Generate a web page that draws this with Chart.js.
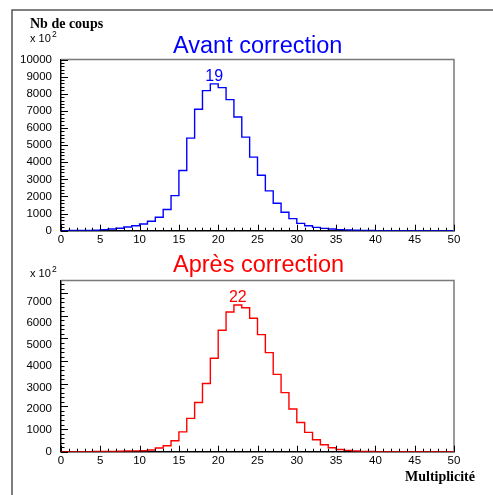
<!DOCTYPE html>
<html>
<head>
<meta charset="utf-8">
<script src="https://cdn.jsdelivr.net/npm/chart.js@4.4.1/dist/chart.umd.min.js"></script>
<style>
html,body{margin:0;padding:0;background:#fff;}
#wrap{position:relative;width:493px;height:495px;overflow:hidden;}
canvas{position:absolute;left:0;}
#c1{top:0;}
#c2{top:250px;}
</style>
</head>
<body>
<div id="wrap">
<canvas id="c1" width="493" height="250"></canvas>
<canvas id="c2" width="493" height="245"></canvas>
</div>
<script>
// ---- data (bins of width 1, from 0 to 50) ----
const binStarts = Array.from({length: 50}, (_, i) => i);
const avantValues = [5, 8, 12, 18, 30, 60, 100, 140, 220, 285,
  390, 555, 782, 1240, 2050, 3520, 5405, 7090, 8180, 8574,
  8359, 7656, 6640, 5468, 4297, 3242, 2324, 1601, 1074, 703,
  430, 293, 195, 137, 98, 62, 40, 25, 15, 9,
  5, 3, 2, 1, 0, 0, 0, 0, 0, 0];
const apresValues = [2, 3, 4, 5, 7, 10, 14, 20, 28, 35,
  44, 74, 162, 265, 486, 876, 1473, 2170, 3012, 4124,
  5360, 6170, 6481, 6355, 5892, 5170, 4375, 3415, 2607, 1886,
  1290, 855, 530, 309, 177, 95, 59, 30, 15, 8,
  4, 2, 1, 0, 0, 0, 0, 0, 0, 0];
const xTickLabels = ['0','5','10','15','20','25','30','35','40','45','50'];
const yTickLabelsTop = ['0','1000','2000','3000','4000','5000','6000','7000','8000','9000','10000'];
const yTickLabelsBottom = ['0','1000','2000','3000','4000','5000','6000','7000'];
const titleTop = 'Avant correction';
const titleBottom = 'Après correction';
const yAxisTitle = 'Nb de coups';
const xAxisTitle = 'Multiplicité';
const scaleNote = 'x 10';
const scaleExp = '2';

const SANS = '"Liberation Sans", Arial, Helvetica, sans-serif';
const SERIF = '"Liberation Serif", "Times New Roman", serif';

function histPoints(vals) {
  const pts = binStarts.map((b, i) => ({x: b, y: vals[i]}));
  pts.push({x: 50, y: vals[vals.length - 1]});
  return pts;
}
function peakIndex(vals) {
  let m = 0;
  vals.forEach((v, i) => { if (v > vals[m]) m = i; });
  return m;
}

function makeDecor(cfg) {
  return {
    id: 'decor',
    afterDatasetsDraw(chart) {
      const ctx = chart.ctx;
      const a = chart.chartArea;
      const xs = chart.scales.x, ys = chart.scales.y;
      ctx.save();
      // gray frame top/right
      ctx.strokeStyle = '#7a7a7a';
      ctx.lineWidth = 1.5;
      ctx.beginPath();
      ctx.moveTo(a.left, a.top);
      ctx.lineTo(a.right, a.top);
      ctx.lineTo(a.right, a.bottom);
      ctx.stroke();
      // inward ticks
      ctx.strokeStyle = '#000';
      ctx.lineWidth = 1;
      ctx.beginPath();
      for (let k = 0; k <= 50; k++) {
        const px = Math.round(xs.getPixelForValue(k)) + 0.5;
        const len = (k % 5 === 0) ? 6 : 3;
        ctx.moveTo(px, a.bottom);
        ctx.lineTo(px, a.bottom - len);
      }
      for (let v = 0; v <= ys.max + 1e-6; v += 200) {
        const py = Math.round(ys.getPixelForValue(v)) + 0.5;
        const len = (v % 1000 === 0) ? 7 : 3.5;
        ctx.moveTo(a.left, py);
        ctx.lineTo(a.left + len, py);
      }
      ctx.stroke();
      // peak label
      const pk = peakIndex(cfg.values);
      ctx.fillStyle = cfg.color;
      ctx.font = '16px ' + SANS;
      ctx.textAlign = 'center';
      ctx.textBaseline = 'alphabetic';
      ctx.fillText(String(binStarts[pk]), xs.getPixelForValue(binStarts[pk] + 0.5), ys.getPixelForValue(cfg.values[pk]) - 3);
      // title
      ctx.font = '23.5px ' + SANS;
      ctx.textAlign = 'left';
      ctx.fillText(cfg.title, 173, cfg.titleY);
      // outer frame
      ctx.strokeStyle = '#555';
      ctx.lineWidth = 1.5;
      ctx.beginPath();
      if (cfg.frameTop !== null) {
        ctx.moveTo(493, cfg.frameTop);
        ctx.lineTo(12, cfg.frameTop);
        ctx.lineTo(12, chart.height);
      } else {
        ctx.moveTo(12, 0);
        ctx.lineTo(12, chart.height);
      }
      ctx.stroke();
      // x 10^2
      ctx.fillStyle = '#000';
      ctx.font = '11px ' + SANS;
      ctx.fillText(scaleNote, 30, cfg.noteY);
      ctx.font = '8.5px ' + SANS;
      ctx.fillText(scaleExp, 52, cfg.noteY - 5);
      // axis titles
      ctx.font = 'bold 14px ' + SERIF;
      if (cfg.yTitle) ctx.fillText(cfg.yTitle, 30, 28);
      if (cfg.xTitle) ctx.fillText(cfg.xTitle, 405, cfg.xTitleY);
      ctx.restore();
    }
  };
}

function makeChart(id, cfg) {
  return new Chart(document.getElementById(id), {
    type: 'line',
    data: {
      datasets: [{
        data: histPoints(cfg.values),
        borderColor: cfg.color,
        borderWidth: 1.4,
        stepped: 'before',
        pointRadius: 0,
        fill: false,
        tension: 0
      }]
    },
    options: {
      responsive: false,
      animation: false,
      events: [],
      layout: {padding: {left: 0, right: 39, top: cfg.padTop, bottom: 0}},
      plugins: {legend: {display: false}, tooltip: {enabled: false}, title: {display: false}},
      scales: {
        x: {
          type: 'linear', min: 0, max: 50,
          grid: {display: false, drawTicks: false},
          border: {display: true, color: '#000', width: 1.5},
          ticks: {
            stepSize: 5, padding: 2, maxRotation: 0, autoSkip: false,
            color: '#000', font: {family: SANS, size: 11.5},
            callback: (v) => xTickLabels[xTickLabels.indexOf(String(v))]
          },
          afterFit: (s) => { s.height = cfg.xHeight; }
        },
        y: {
          type: 'linear', min: 0, max: cfg.yMax,
          grid: {display: false, drawTicks: false},
          border: {display: true, color: '#000', width: 1.5},
          ticks: {
            stepSize: 1000, includeBounds: false, padding: 9, autoSkip: false,
            color: '#000', font: {family: SANS, size: 11.5},
            callback: (v) => cfg.yLabels[Math.round(v / 1000)]
          },
          afterFit: (s) => { s.width = 61; }
        }
      }
    },
    plugins: [makeDecor(cfg)]
  });
}

makeChart('c1', {
  values: avantValues, color: '#0000ff', yMax: 10000, yLabels: yTickLabelsTop,
  padTop: 59.5, xHeight: 19.3, title: titleTop, titleY: 53,
  frameTop: 10, noteY: 42, yTitle: yAxisTitle, xTitle: null
});
makeChart('c2', {
  values: apresValues, color: '#ff0000', yMax: 7560, yLabels: yTickLabelsBottom,
  padTop: 30.5, xHeight: 43.3, title: titleBottom, titleY: 21.7,
  frameTop: null, noteY: 27, yTitle: null, xTitle: xAxisTitle, xTitleY: 231
});
</script>
</body>
</html>
